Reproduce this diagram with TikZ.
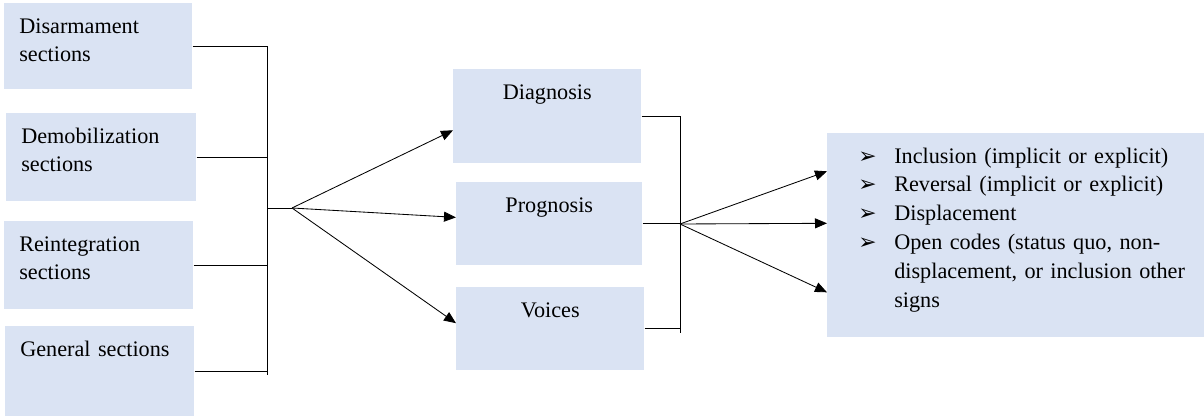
\documentclass[tikz,border=0pt]{standalone}
\usepackage{fontspec}
\setmainfont{Liberation Serif}
\newfontfamily\timesfont{Liberation Serif}
\newfontfamily\symfont{DejaVu Sans}
\usetikzlibrary{arrows.meta, positioning, calc}
\definecolor{boxblue}{RGB}{218,227,243}
\newcommand{\arrowbul}{\hspace*{0.6cm}\makebox[0.9cm][l]{\symfont\bfseries\fontsize{15.5pt}{15pt}\selectfont ➢}}
\newcommand{\hangon}{\hspace*{1.5cm}}

\begin{document}
\begin{tikzpicture}[x=0.025cm, y=-0.025cm]
    \tikzset{
        secbox/.style={fill=boxblue, anchor=north west, inner xsep=0.375cm, inner ysep=0.375cm,
            text height=0.37cm, align=left, font=\timesfont\fontsize{15.8pt}{20.5pt}\selectfont},
        framebox/.style={secbox, align=center},
        link/.style={line width=0.6pt},
        flow/.style={link, -{Triangle[length=0.3cm, width=0.25cm]}}
    }
    \useasboundingbox (0,0) rectangle (1204,419);

    % Sections of the documents
    \node[secbox, text width=3.95cm, text depth=1.03cm] (dis) at (4,3) {Disarmament\\sections};
    \node[secbox, text width=4cm, text depth=1.08cm] (dem) at (6,113) {Demobilization\\sections};
    \node[secbox, text width=3.975cm, text depth=1.08cm] (rei) at (4,221) {Reintegration\\sections};
    \node[secbox, text width=3.975cm, text depth=1.13cm] (gen) at (5,326) {General sections};

    % Framing tasks
    \node[framebox, text width=3.95cm, text depth=1.23cm] (diag) at (453,69) {Diagnosis};
    \node[framebox, text width=3.9cm, text depth=0.955cm] (prog) at (456,182) {Prognosis};
    \node[framebox, text width=3.95cm, text depth=0.955cm] (voi) at (456,287) {Voices};

    % Codes
    \node[secbox, inner xsep=0.175cm, text width=9.075cm, text depth=3.98cm] (codes) at (827,133) {%
        \mbox{\arrowbul Inclusion (implicit or explicit)}\\
        \mbox{\arrowbul Reversal (implicit or explicit)}\\
        \mbox{\arrowbul Displacement}\\
        \mbox{\arrowbul Open codes (status quo, non-}\\
        \mbox{\hangon displacement, or inclusion other}\\
        \mbox{\hangon signs}};

    % Left bracket and fork
    \coordinate (ltrunk) at (267,208);
    \coordinate (lfork) at (292,208);
    \foreach \n in {dis,dem,rei,gen} {
        \draw[link] (\n.east) -- (\n.east -| ltrunk);
    }
    \draw[link] (dis.east -| ltrunk) -- ([yshift=-0.1cm]gen.east -| ltrunk);
    \draw[link] (ltrunk) -- (lfork);
    \draw[flow] (lfork) -- ([yshift=-0.35cm]diag.west);
    \draw[flow] (lfork) -- ([yshift=0.16cm]prog.west);
    \draw[flow] (lfork) -- ([yshift=0.14cm]voi.west);

    % Right bracket and fork
    \coordinate (rtrunk) at (680,224);
    \foreach \n in {diag,prog,voi} {
        \draw[link] (\n.east) -- (\n.east -| rtrunk);
    }
    \draw[link] (diag.east -| rtrunk) -- ([yshift=-0.1cm]voi.east -| rtrunk);
    \draw[flow] (rtrunk) -- ([yshift=1.6cm]codes.west);
    \draw[flow] (rtrunk) -- ([yshift=0.3cm]codes.west);
    \draw[flow] (rtrunk) -- ([yshift=-1.425cm]codes.west);
\end{tikzpicture}
\end{document}
